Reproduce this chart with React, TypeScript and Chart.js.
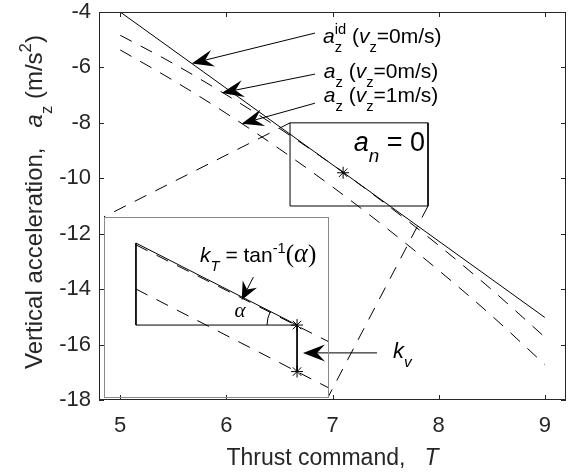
import React, { useEffect, useRef } from 'react';
import { Chart, registerables } from 'chart.js';

Chart.register(...registerables);

// ---------- data ----------
const xTicks = [5, 6, 7, 8, 9];
const yTicks = [-4, -6, -8, -10, -12, -14, -16, -18];

const thrustIdeal = [5, 9];
const accelIdeal = [-4.0, -15.02];

const thrust = [5, 5.5, 6, 6.5, 7, 7.5, 8, 8.5, 9];
const accelV0 = [-4.84, -5.86, -6.99, -8.2, -9.51, -10.92, -12.42, -14.02, -15.73];
const accelV1 = [-5.37, -6.47, -7.66, -8.94, -10.31, -11.77, -13.32, -14.96, -16.72];

const hoverT = [7.1];
const hoverA = [-9.8];

const zoomBoxT = [6.6, 7.9];
const zoomBoxA = [-8, -11];
const insetCornerT = [4.847, 6.958];
const insetCornerA = [-11.39, -17.9];

// inset (schematic, normalised units 0..1)
const insetIdealX = [0.142, 0.858];
const insetIdealY = [0.856, 0.403];
const insetV0X = [0.142, 1.0];
const insetV0Y = [0.846, 0.31];
const insetV1X = [0.142, 1.0];
const insetV1Y = [0.602, 0.055];
const insetTriX = [0.142, 0.142, 0.858];
const insetTriY = [0.856, 0.403, 0.403];
const insetKvX = [0.858, 0.858];
const insetKvY = [0.403, 0.146];

// annotation anchors (data units)
const arrowTailT = [6.835, 6.835, 6.835, 7.419];
const arrowTailA = [-4.76, -6.24, -7.29, -16.3];
const arrowTipT = [5.673, 5.956, 6.144, 6.722];
const arrowTipA = [-5.856, -6.92, -8.03, -16.3];
const labelT = [6.91, 6.918, 6.918];
const labelA = [-5.12, -6.39, -7.26];
const anLabel = { t: 7.2, a: -9.02 };
const kvLabel = { t: 7.57, a: -16.48 };
const kTLabel = { x: 0.427, y: 0.751 };
const alphaLabel = { x: 0.604, y: 0.48 };
const kTArrow = { x1: 0.664, y1: 0.668, x2: 0.612, y2: 0.541 };

// ---------- styling ----------
const SANS = '"Liberation Sans", Arial, Helvetica, sans-serif';
const SERIF = '"Liberation Serif", "Times New Roman", serif';
const AXIS = '#262626';
const DASH = [13, 10];
const TICK_FONT = `22px ${SANS}`;

type Seg = { t: string; it?: boolean; serif?: boolean; pos?: 'sub' | 'sup'; stack?: boolean; k?: number };

function segFont(s: Seg, size: number) {
  const px = (s.pos ? size * 0.7 : size) * (s.k || 1);
  return `${s.it ? 'italic ' : ''}${px}px ${s.serif ? SERIF : SANS}`;
}

function layoutRich(ctx: CanvasRenderingContext2D, segs: Seg[], size: number) {
  let x = 0;
  let prevStart = 0;
  let prevW = 0;
  const items: { s: Seg; x: number; dy: number }[] = [];
  for (const s of segs) {
    ctx.font = segFont(s, size);
    const w = ctx.measureText(s.t).width;
    let start = x;
    if (s.stack) {
      start = prevStart;
      x = prevStart + Math.max(prevW, w);
    } else {
      x += w;
    }
    const dy = s.pos === 'sub' ? size * 0.42 : s.pos === 'sup' ? -size * 0.45 : 0;
    items.push({ s, x: start, dy });
    prevStart = start;
    prevW = w;
  }
  return { items, width: x };
}

function drawRich(ctx: CanvasRenderingContext2D, x: number, y: number, segs: Seg[], size: number, color: string) {
  const lay = layoutRich(ctx, segs, size);
  ctx.fillStyle = color;
  ctx.textAlign = 'left';
  ctx.textBaseline = 'alphabetic';
  for (const it of lay.items) {
    ctx.font = segFont(it.s, size);
    ctx.fillText(it.s.t, x + it.x, y + it.dy);
  }
  return lay.width;
}

function drawArrow(ctx: CanvasRenderingContext2D, x1: number, y1: number, x2: number, y2: number, L: number, W: number, N: number) {
  const dx = x2 - x1;
  const dy = y2 - y1;
  const len = Math.hypot(dx, dy);
  const ux = dx / len;
  const uy = dy / len;
  const px = -uy;
  const py = ux;
  const bx = x2 - ux * L;
  const by = y2 - uy * L;
  const nx = x2 - ux * N;
  const ny = y2 - uy * N;
  ctx.beginPath();
  ctx.moveTo(x1, y1);
  ctx.lineTo(nx, ny);
  ctx.stroke();
  ctx.beginPath();
  ctx.moveTo(x2, y2);
  ctx.lineTo(bx + px * W, by + py * W);
  ctx.lineTo(nx, ny);
  ctx.lineTo(bx - px * W, by - py * W);
  ctx.closePath();
  ctx.fill();
}

const mkLine = (xs: number[], ys: number[], dash: number[] = []) => ({
  data: xs.map((x, i) => ({ x, y: ys[i] })),
  borderColor: '#000',
  borderWidth: 1,
  borderDash: dash,
  pointRadius: 0,
  fill: false,
  tension: 0,
});

const mkStars = (xs: number[], ys: number[]) => ({
  data: xs.map((x, i) => ({ x, y: ys[i] })),
  showLine: false,
  pointStyle: 'star',
  pointRadius: 6,
  pointBorderColor: '#000',
  pointBorderWidth: 1,
  pointBackgroundColor: '#000',
  borderColor: '#000',
});

const mainDecor = {
  id: 'mainDecor',
  afterDraw(chart: any) {
    const ctx: CanvasRenderingContext2D = chart.ctx;
    const { left, right, top, bottom } = chart.chartArea;
    const xs = chart.scales.x;
    const ys = chart.scales.y;
    const X = (v: number) => xs.getPixelForValue(v);
    const Y = (v: number) => ys.getPixelForValue(v);
    ctx.save();
    // axes box + inward ticks
    ctx.strokeStyle = AXIS;
    ctx.lineWidth = 1;
    ctx.strokeRect(left + 0.5, top + 0.5, right - left - 1, bottom - top - 1);
    ctx.beginPath();
    for (const v of xTicks) {
      const p = Math.round(X(v)) + 0.5;
      ctx.moveTo(p, bottom);
      ctx.lineTo(p, bottom - 5);
      ctx.moveTo(p, top);
      ctx.lineTo(p, top + 5);
    }
    for (const v of yTicks) {
      const p = Math.round(Y(v)) + 0.5;
      ctx.moveTo(left, p);
      ctx.lineTo(left + 5, p);
      ctx.moveTo(right, p);
      ctx.lineTo(right - 5, p);
    }
    ctx.stroke();

    // tick labels
    ctx.fillStyle = AXIS;
    ctx.font = TICK_FONT;
    ctx.textAlign = 'center';
    ctx.textBaseline = 'alphabetic';
    for (const v of xTicks) ctx.fillText(String(v), X(v), bottom + 32);
    ctx.textAlign = 'right';
    ctx.textBaseline = 'middle';
    for (const v of yTicks) ctx.fillText(String(v), left - 8, Y(v));

    // axis titles
    const xTitle: Seg[] = [{ t: 'Thrust command,   ' }, { t: 'T', it: true }];
    const wx = layoutRich(ctx, xTitle, 23).width;
    drawRich(ctx, (left + right) / 2 - wx / 2, bottom + 65, xTitle, 23, AXIS);

    const yTitle: Seg[] = [
      { t: 'Vertical acceleration,   ' },
      { t: 'a', it: true },
      { t: 'z', pos: 'sub' },
      { t: ' (m/s' },
      { t: '2', pos: 'sup' },
      { t: ')' },
    ];
    const wy = layoutRich(ctx, yTitle, 24).width;
    ctx.save();
    ctx.translate(left - 57.5, (top + bottom) / 2 - 4);
    ctx.rotate(-Math.PI / 2);
    drawRich(ctx, -wy / 2, 0, yTitle, 24, AXIS);
    ctx.restore();

    // arrows
    ctx.strokeStyle = '#000';
    ctx.fillStyle = '#000';
    for (let i = 0; i < arrowTailT.length; i++) {
      drawArrow(ctx, X(arrowTailT[i]), Y(arrowTailA[i]), X(arrowTipT[i]), Y(arrowTipA[i]), 22, 8.5, 14);
    }

    // labels
    const labels: Seg[][] = [
      [{ t: 'a', it: true }, { t: 'z', pos: 'sub' }, { t: 'id', pos: 'sup', stack: true }, { t: ' (' }, { t: 'v', it: true }, { t: 'z', pos: 'sub' }, { t: '=0m/s)' }],
      [{ t: 'a', it: true }, { t: 'z', pos: 'sub' }, { t: ' (' }, { t: 'v', it: true }, { t: 'z', pos: 'sub' }, { t: '=0m/s)' }],
      [{ t: 'a', it: true }, { t: 'z', pos: 'sub' }, { t: ' (' }, { t: 'v', it: true }, { t: 'z', pos: 'sub' }, { t: '=1m/s)' }],
    ];
    labels.forEach((segs, i) => drawRich(ctx, X(labelT[i]), Y(labelA[i]), segs, 21, '#000'));
    drawRich(ctx, X(anLabel.t), Y(anLabel.a), [{ t: 'a', it: true }, { t: 'n', it: true, pos: 'sub' }, { t: ' = 0' }], 27, '#000');
    drawRich(ctx, X(kvLabel.t), Y(kvLabel.a), [{ t: 'k', it: true }, { t: 'v', it: true, pos: 'sub' }], 22, '#000');
    ctx.restore();
  },
};

const insetDecor = {
  id: 'insetDecor',
  afterDraw(chart: any) {
    const ctx: CanvasRenderingContext2D = chart.ctx;
    const xs = chart.scales.x;
    const ys = chart.scales.y;
    const X = (v: number) => xs.getPixelForValue(v);
    const Y = (v: number) => ys.getPixelForValue(v);
    ctx.save();
    ctx.strokeStyle = '#8a8a8a';
    ctx.lineWidth = 1;
    ctx.strokeRect(0.5, 0.5, chart.width - 1, chart.height - 1);

    // angle arc
    ctx.strokeStyle = '#000';
    const cx = X(insetIdealX[1]);
    const cy = Y(insetIdealY[1]);
    const ang = Math.atan2(Y(insetIdealY[1]) - Y(insetIdealY[0]), X(insetIdealX[1]) - X(insetIdealX[0]));
    ctx.beginPath();
    ctx.arc(cx, cy, 30, Math.PI, Math.PI + ang);
    ctx.stroke();

    // alpha
    ctx.fillStyle = '#000';
    ctx.font = `italic 21px ${SERIF}`;
    ctx.textAlign = 'center';
    ctx.textBaseline = 'middle';
    ctx.fillText('α', X(alphaLabel.x), Y(alphaLabel.y));

    // k_T label
    drawRich(
      ctx,
      X(kTLabel.x),
      Y(kTLabel.y),
      [
        { t: 'k', it: true },
        { t: 'T', it: true, pos: 'sub' },
        { t: ' = tan' },
        { t: '-1', pos: 'sup' },
        { t: '(', serif: true, k: 1.2 },
        { t: 'α', it: true, serif: true, k: 1.25 },
        { t: ')', serif: true, k: 1.2 },
      ],
      21,
      '#000'
    );
    drawArrow(ctx, X(kTArrow.x1), Y(kTArrow.y1), X(kTArrow.x2), Y(kTArrow.y2), 18, 8, 12);
    ctx.restore();
  },
};

export default function App() {
  const mainRef = useRef<HTMLCanvasElement>(null);
  const insetRef = useRef<HTMLCanvasElement>(null);

  useEffect(() => {
    const main = new Chart(mainRef.current as HTMLCanvasElement, {
      type: 'line',
      data: {
        datasets: [
          mkLine(thrustIdeal, accelIdeal),
          { ...mkLine(thrust, accelV0, DASH), cubicInterpolationMode: 'monotone' },
          { ...mkLine(thrust, accelV1, DASH), cubicInterpolationMode: 'monotone' },
          mkLine(
            [zoomBoxT[0], zoomBoxT[1], zoomBoxT[1], zoomBoxT[0], zoomBoxT[0]],
            [zoomBoxA[0], zoomBoxA[0], zoomBoxA[1], zoomBoxA[1], zoomBoxA[0]]
          ),
          mkLine([zoomBoxT[0], insetCornerT[0]], [zoomBoxA[0], insetCornerA[0]], DASH),
          mkLine([zoomBoxT[1], insetCornerT[1]], [zoomBoxA[1], insetCornerA[1]], DASH),
          mkStars(hoverT, hoverA),
        ] as any,
      },
      options: {
        responsive: false,
        animation: false,
        devicePixelRatio: 1,
        layout: { autoPadding: false, padding: { left: 0, right: 2, top: 12, bottom: 0 } },
        plugins: { legend: { display: false }, tooltip: { enabled: false }, title: { display: false } },
        scales: {
          x: {
            type: 'linear',
            min: 4.8,
            max: 9.2,
            grid: { display: false, drawTicks: false },
            border: { display: false },
            ticks: { display: false },
            afterBuildTicks: (s: any) => {
              s.ticks = xTicks.map((value) => ({ value }));
            },
            afterFit: (s: any) => {
              s.height = 72;
            },
          },
          y: {
            type: 'linear',
            min: -18,
            max: -4,
            grid: { display: false, drawTicks: false },
            border: { display: false },
            ticks: { display: false },
            afterBuildTicks: (s: any) => {
              s.ticks = yTicks.map((value) => ({ value }));
            },
            afterFit: (s: any) => {
              s.width = 99;
            },
          },
        },
      } as any,
      plugins: [mainDecor],
    });

    const xs: any = main.scales.x;
    const ys: any = main.scales.y;
    const l = Math.round(xs.getPixelForValue(insetCornerT[0]));
    const r = Math.round(xs.getPixelForValue(insetCornerT[1]));
    const t = Math.round(ys.getPixelForValue(insetCornerA[0]));
    const b = Math.round(ys.getPixelForValue(insetCornerA[1]));
    const ic = insetRef.current as HTMLCanvasElement;
    ic.width = r - l + 1;
    ic.height = b - t + 1;
    ic.style.left = `${l}px`;
    ic.style.top = `${t}px`;
    ic.style.width = `${r - l + 1}px`;
    ic.style.height = `${b - t + 1}px`;

    const inset = new Chart(ic, {
      type: 'line',
      data: {
        datasets: [
          mkLine(insetV0X, insetV0Y, DASH),
          mkLine(insetV1X, insetV1Y, DASH),
          mkLine(insetIdealX, insetIdealY),
          mkLine(insetTriX, insetTriY),
          mkLine(insetKvX, insetKvY),
          mkStars([insetKvX[0], insetKvX[1]], [insetKvY[0], insetKvY[1]]),
        ] as any,
      },
      options: {
        responsive: false,
        animation: false,
        devicePixelRatio: 1,
        layout: { autoPadding: false, padding: 0 },
        plugins: { legend: { display: false }, tooltip: { enabled: false } },
        scales: {
          x: { type: 'linear', min: 0, max: 1, display: false },
          y: { type: 'linear', min: 0, max: 1, display: false },
        },
      } as any,
      plugins: [insetDecor],
    });

    return () => {
      main.destroy();
      inset.destroy();
    };
  }, []);

  return (
    <div style={{ position: 'absolute', left: 0, top: 0, width: 568, height: 472, background: '#fff' }}>
      <canvas ref={mainRef} width={568} height={472} style={{ position: 'absolute', left: 0, top: 0 }} />
      <canvas ref={insetRef} style={{ position: 'absolute' }} />
    </div>
  );
}
